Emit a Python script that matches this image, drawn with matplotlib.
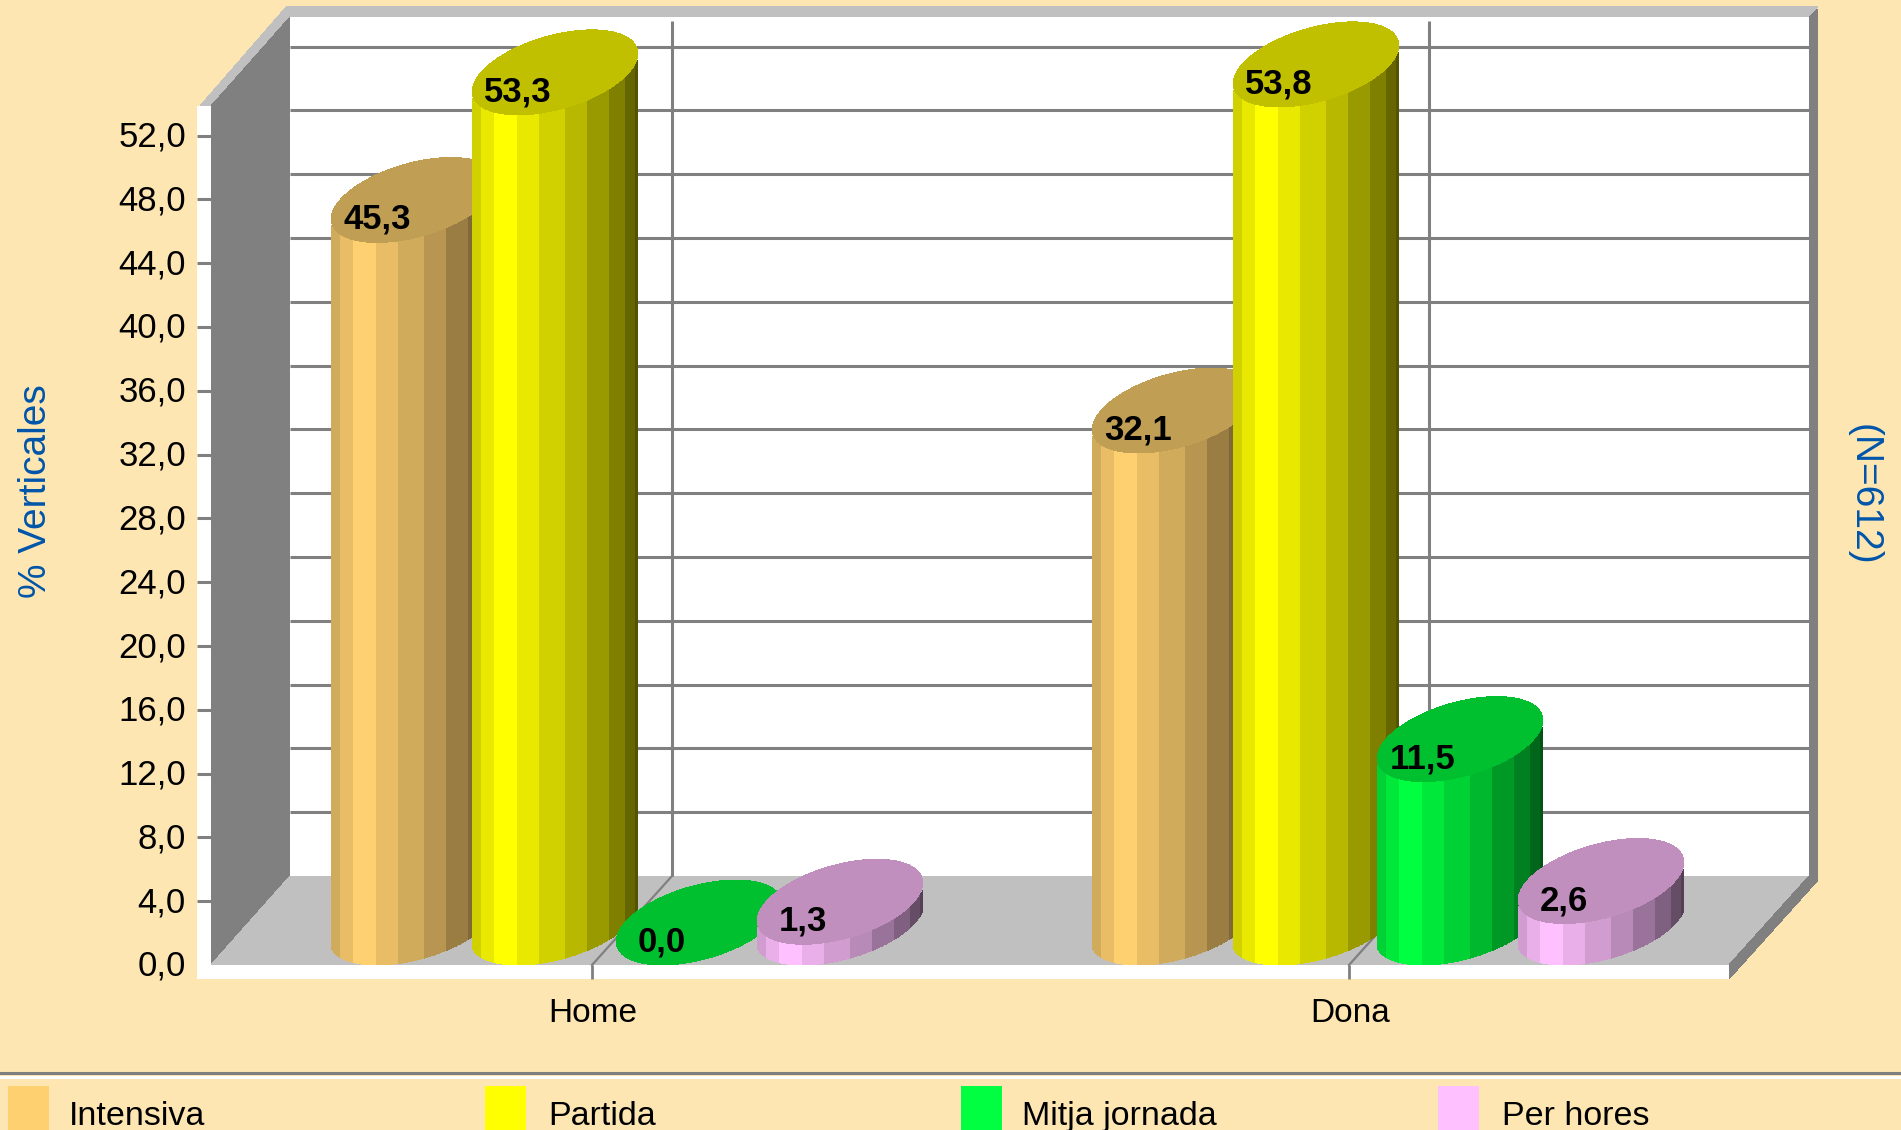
import numpy as np
import matplotlib
matplotlib.use("Agg")
import matplotlib.pyplot as plt
from matplotlib.patches import Polygon, Rectangle

categories = ["Home", "Dona"]
series_names = ["Intensiva", "Partida", "Mitja jornada", "Per hores"]
intensiva = [45.3, 32.1]
partida = [53.3, 53.8]
mitja = [0.0, 11.5]
per_hores = [1.3, 2.6]
y_ticks = [0, 4, 8, 12, 16, 20, 24, 28, 32, 36, 40, 44, 48, 52]

W, H = 1901, 1130
PX = 15.95                    # pixels per percent
Y0 = 965                      # pixel row of value 0 on the front edge
DEPTH = 89 / PX               # floor depth, in value units
ELL_H = 85 / PX               # height of a cylinder's cap
SHEAR = 80                    # floor depth, horizontal pixels

BG = "#FEE6B2"
GREY = "#808080"
LIGHT = "#C0C0C0"
BLUE = "#0055AA"
FONT = ["Liberation Sans", "DejaVu Sans"]

base_colors = ["#FFD070", "#FFFF00", "#00FF40", "#FFC0FF"]
top_colors = ["#C09F55", "#C0C000", "#00C030", "#C08FBE"]
group_left = [331, 1092]
bar_step = [0, 141, 285, 426]
strip_edges = [0, 9, 22, 45, 67, 93, 115, 137, 153, 163, 166]
strip_shade = [0.82, 0.91, 1.0, 0.91, 0.82, 0.72, 0.6, 0.5, 0.4, 0.33]


def shade(color, f):
    rgb = np.array(matplotlib.colors.to_rgb(color))
    return tuple(rgb * f)


def ellipse(left, value):
    # skewed ellipse lying on the floor plane, lowest point sits on value
    t = np.linspace(0, 2 * np.pi, 361)
    cx = left + 83
    x = cx + 74 * np.cos(t) + 37 * np.sin(t)
    y = value + ELL_H / 2 + ELL_H / 2 * np.sin(t)
    return x, y


def lower_arc(left, xs):
    x, y = ellipse(left, 0)
    grid = np.linspace(x.min(), x.max(), 400)
    low = [y[np.abs(x - g) < 1.5].min() for g in grid]
    return np.interp(xs, grid, low)


def cylinder(ax, left, value, base, top, z):
    for i, f in enumerate(strip_shade):
        xa = left + strip_edges[i]
        xb = left + strip_edges[i + 1]
        xs = np.linspace(xa, xb, 12)
        low = lower_arc(left, xs)
        pts = np.r_[np.c_[xs, low], np.c_[xs[::-1], low[::-1] + value]]
        if value > 0:
            ax.add_patch(Polygon(pts, fc=shade(base, f), ec="none", zorder=z, antialiased=False))
    x, y = ellipse(left, value)
    ax.add_patch(Polygon(np.c_[x, y], fc=top, ec="none", zorder=z + 0.1, antialiased=False))
    ax.text(left + 46, value + 23 / PX, f"{value:.1f}".replace(".", ","), family=FONT,
            fontsize=25, fontweight="bold", ha="center", va="center", zorder=z + 0.2)


def main():
    fig = plt.figure(figsize=(W / 100, H / 100), dpi=100, facecolor=BG)
    ax = fig.add_axes([0, 0, 1, 1])
    ax.set_xlim(0, W)
    ax.set_ylim((Y0 - H) / PX, Y0 / PX)
    ax.axis("off")

    val_top = 948 / PX        # top of the back wall
    front_top = 859 / PX      # top of the front plate
    left_f, left_b = 211, 290
    right_f, right_b = 1729, 1809
    plate_bottom = -14 / PX

    # white plate + back wall
    ax.add_patch(Rectangle((197, plate_bottom), right_f - 197, front_top - plate_bottom, fc="white", ec="none", zorder=1))
    ax.add_patch(Rectangle((left_b, DEPTH), right_b - left_b, val_top - DEPTH, fc="white", ec="none", zorder=1))
    # top rim, left rim
    ax.add_patch(Polygon([(200, front_top), (287, val_top + 11 / PX), (1818, val_top + 11 / PX), (1809, val_top), (left_b, val_top), (left_f, front_top)],
                         fc=LIGHT, ec="none", zorder=2, antialiased=False))
    # left wall
    ax.add_patch(Polygon([(left_f, 0), (left_b, DEPTH), (left_b, val_top), (left_f, front_top)], fc=GREY, ec="none", zorder=2, antialiased=False))
    # floor
    ax.add_patch(Polygon([(left_f, 0), (left_b, DEPTH), (right_b, DEPTH), (right_f, 0)], fc=LIGHT, ec="none", zorder=2, antialiased=False))
    # right rim
    ax.add_patch(Polygon([(right_f, plate_bottom), (right_f, 0), (right_b, DEPTH), (right_b, val_top), (1818, val_top + 8 / PX), (1818, DEPTH - 4 / PX)],
                         fc=GREY, ec="none", zorder=2, antialiased=False))

    # gridlines on the back wall, ticks on the left
    for v in y_ticks[1:]:
        ax.plot([left_b, right_b], [v + DEPTH, v + DEPTH], color=GREY, lw=2.2, solid_capstyle="butt", zorder=3)
        ax.plot([197, left_f], [v, v], color=GREY, lw=2.2, solid_capstyle="butt", zorder=3)
    for v in y_ticks:
        ax.text(186, v - 1.5 / PX, f"{v:.1f}".replace(".", ","), family=FONT, fontsize=25, ha="right", va="center", zorder=4)

    # category dividers
    tick_x = [592, 1349]
    for k, name in enumerate(categories):
        xt = tick_x[k]
        ax.plot([xt + SHEAR, xt + SHEAR], [DEPTH, val_top - 4 / PX], color=GREY, lw=2.2, solid_capstyle="butt", zorder=3)
        ax.plot([xt, xt + SHEAR], [0, DEPTH], color=GREY, lw=1.6, zorder=3)
        ax.plot([xt, xt], [plate_bottom, 0], color=GREY, lw=2, solid_capstyle="butt", zorder=3)
        ax.text(xt + 1, (Y0 - 1014) / PX, name, family=FONT, fontsize=24, ha="center", va="center", zorder=4)

    # cylinders
    all_series = [intensiva, partida, mitja, per_hores]
    z = 5
    for k in range(len(categories)):
        for j, vals in enumerate(all_series):
            cylinder(ax, group_left[k] + bar_step[j], vals[k], base_colors[j], top_colors[j], z)
            z += 1

    # side titles
    ax.text(36, (Y0 - 491) / PX, "% Verticales", color=BLUE, fontsize=28, rotation=90,
            family=FONT, ha="center", va="center")
    ax.text(1864, (Y0 - 495) / PX, "(N=612)", color=BLUE, fontsize=28, rotation=270,
            family=FONT, ha="center", va="center")

    # legend strip
    ax.plot([0, W], [(Y0 - 1073) / PX] * 2, color=GREY, lw=2.2, zorder=3)
    ax.plot([0, W], [(Y0 - 1077) / PX] * 2, color="white", lw=2.2, zorder=3)
    swatch_x = [8, 485, 961, 1438]
    label_x = [69, 548, 1022, 1502]
    for j, name in enumerate(series_names):
        ax.add_patch(Rectangle((swatch_x[j], (Y0 - H) / PX), 41, (H - 1086) / PX, fc=base_colors[j], ec="none", zorder=3))
        ax.text(label_x[j], (Y0 - 1125) / PX, name, family=FONT, fontsize=24.5, ha="left", va="baseline", zorder=4)

    fig.savefig("out.png", dpi=100, facecolor=BG)
    plt.close(fig)


if __name__ == "__main__":
    main()
